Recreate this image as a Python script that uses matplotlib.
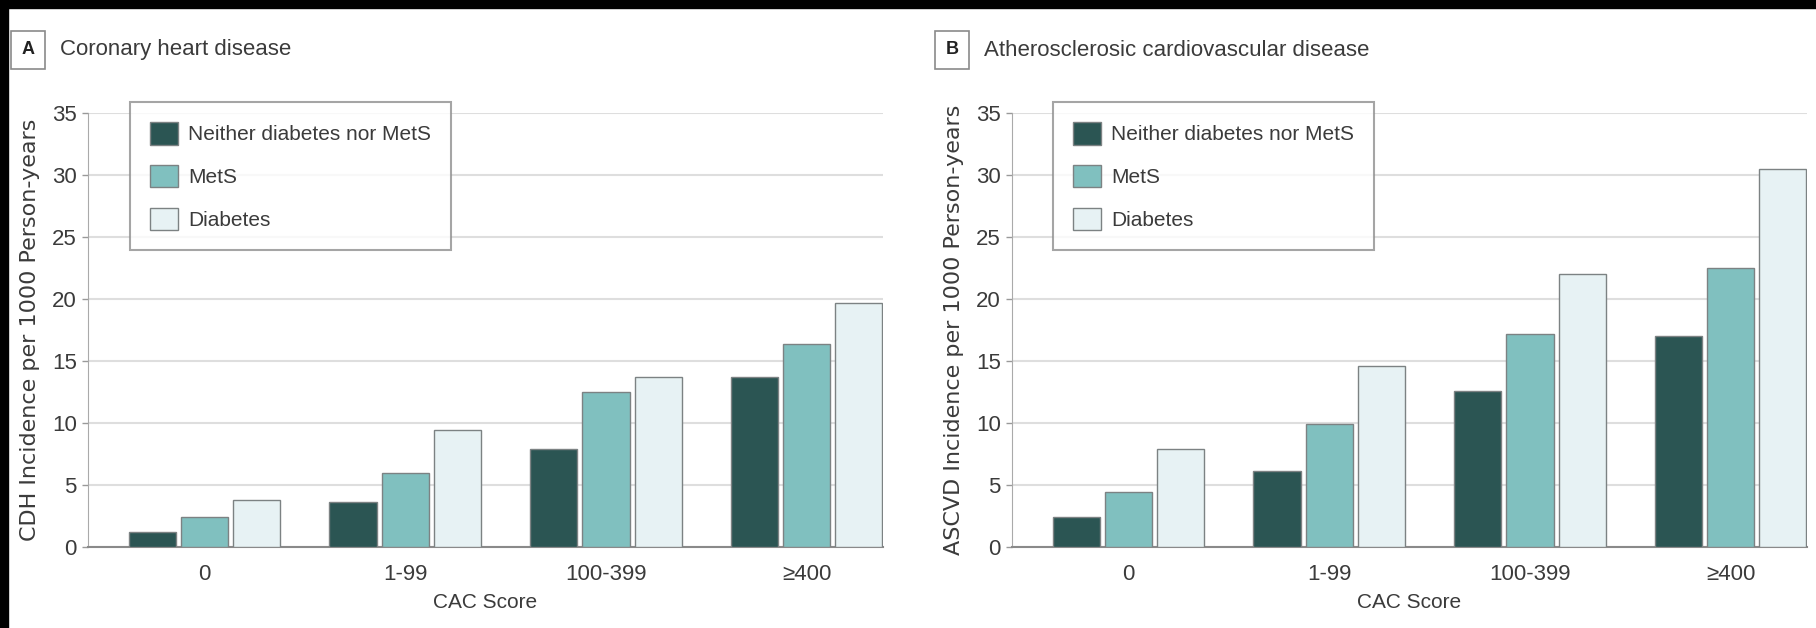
import numpy as np
import matplotlib
matplotlib.use("Agg")
from matplotlib import pyplot as plt
from matplotlib.patches import Rectangle

# data
categories = ["0", "1-99", "100-399", "\u2265400"]
groups = ["Neither diabetes nor MetS", "MetS", "Diabetes"]
chd_neither = [1.2, 3.6, 7.9, 13.7]
chd_mets = [2.4, 6.0, 12.5, 16.4]
chd_diabetes = [3.8, 9.4, 13.7, 19.7]
ascvd_neither = [2.4, 6.1, 12.6, 17.0]
ascvd_mets = [4.4, 9.9, 17.2, 22.5]
ascvd_diabetes = [7.9, 14.6, 22.0, 30.5]
yticks = [0, 5, 10, 15, 20, 25, 30, 35]

colors = ["#2b5553", "#80c0bf", "#e7f2f4"]
edge = "#7c8283"
text_col = "#3b3b3b"
font = ["Liberation Sans", "DejaVu Sans"]

W, H = 1816, 628
fig = plt.figure(figsize=(W / 100, H / 100), dpi=100)
fig.patch.set_facecolor("white")


def panel(left_px, series, ylabel, letter, title, box_px):
    ax = fig.add_axes([left_px / W, (H - 547) / H, 795 / W, 434 / H])
    x = np.arange(len(categories))
    offsets = [-0.26, 0.0, 0.26]
    for vals, off, c, lab in zip(series, offsets, colors, groups):
        ax.bar(x + off, vals, width=0.235, color=c, edgecolor=edge,
               linewidth=1.0, label=lab, zorder=3)
    ax.set_xlim(-0.58, 3.38)
    ax.set_ylim(0, 35)
    ax.set_yticks(yticks)
    ax.set_xticks(x)
    ax.set_xticklabels(categories, family=font, fontsize=16, color=text_col)
    for t in ax.get_yticklabels():
        t.set_family(font)
        t.set_fontsize(16)
        t.set_color(text_col)
    ax.tick_params(axis="x", length=0, pad=12)
    ax.tick_params(axis="y", length=4, width=1, color="#999999", pad=4)
    ax.grid(axis="y", color="#dedede", linewidth=1.5, zorder=0)
    ax.set_axisbelow(True)
    for s in ["top", "right"]:
        ax.spines[s].set_visible(False)
    ax.spines["left"].set_color("#aaaaaa")
    ax.spines["bottom"].set_color("#8a8a8a")
    ax.spines["bottom"].set_linewidth(1.5)
    ax.set_xlabel("CAC Score", family=font, fontsize=15, color=text_col, labelpad=6)
    ax.set_ylabel(ylabel, family="DejaVu Sans", fontsize=16, color=text_col, labelpad=9)

    lx, ly = box_px
    leg = ax.legend(loc="upper left",
                    bbox_to_anchor=((lx - left_px) / 795, (547 - ly) / 434),
                    borderaxespad=0, frameon=True, fancybox=False,
                    prop={"family": font, "size": 15},
                    handlelength=1.35, handleheight=1.3, handletextpad=0.5,
                    labelspacing=0.97, borderpad=0.95)
    leg.get_frame().set_edgecolor("#8f8f8f")
    leg.get_frame().set_linewidth(1.5)
    for t in leg.get_texts():
        t.set_color(text_col)

    # panel letter box and title
    fig.text((left_px - 60) / W, 1 - 50 / H, letter, family=font, fontsize=13,
             fontweight="bold", color="#222222", ha="center", va="center",
             bbox=dict(boxstyle="square,pad=0.6", fc="white", ec="#8a8a8a", lw=1.2))
    fig.text((left_px - 28) / W, 1 - 50 / H, title, family=font, fontsize=16,
             color=text_col, ha="left", va="center")
    return ax


panel(88, [chd_neither, chd_mets, chd_diabetes],
      "CDH Incidence per 1000 Person-years", "A", "Coronary heart disease", (130, 102))
panel(1012, [ascvd_neither, ascvd_mets, ascvd_diabetes],
      "ASCVD Incidence per 1000 Person-years", "B",
      "Atherosclerosic cardiovascular disease", (1053, 102))

# black scan border at top and left
fig.patches.append(Rectangle((0, 1 - 8 / H), 1, 8 / H, transform=fig.transFigure,
                             color="black", zorder=10))
fig.patches.append(Rectangle((0, 0), 8 / W, 1, transform=fig.transFigure,
                             color="black", zorder=10))

fig.savefig("out.png", dpi=100)
